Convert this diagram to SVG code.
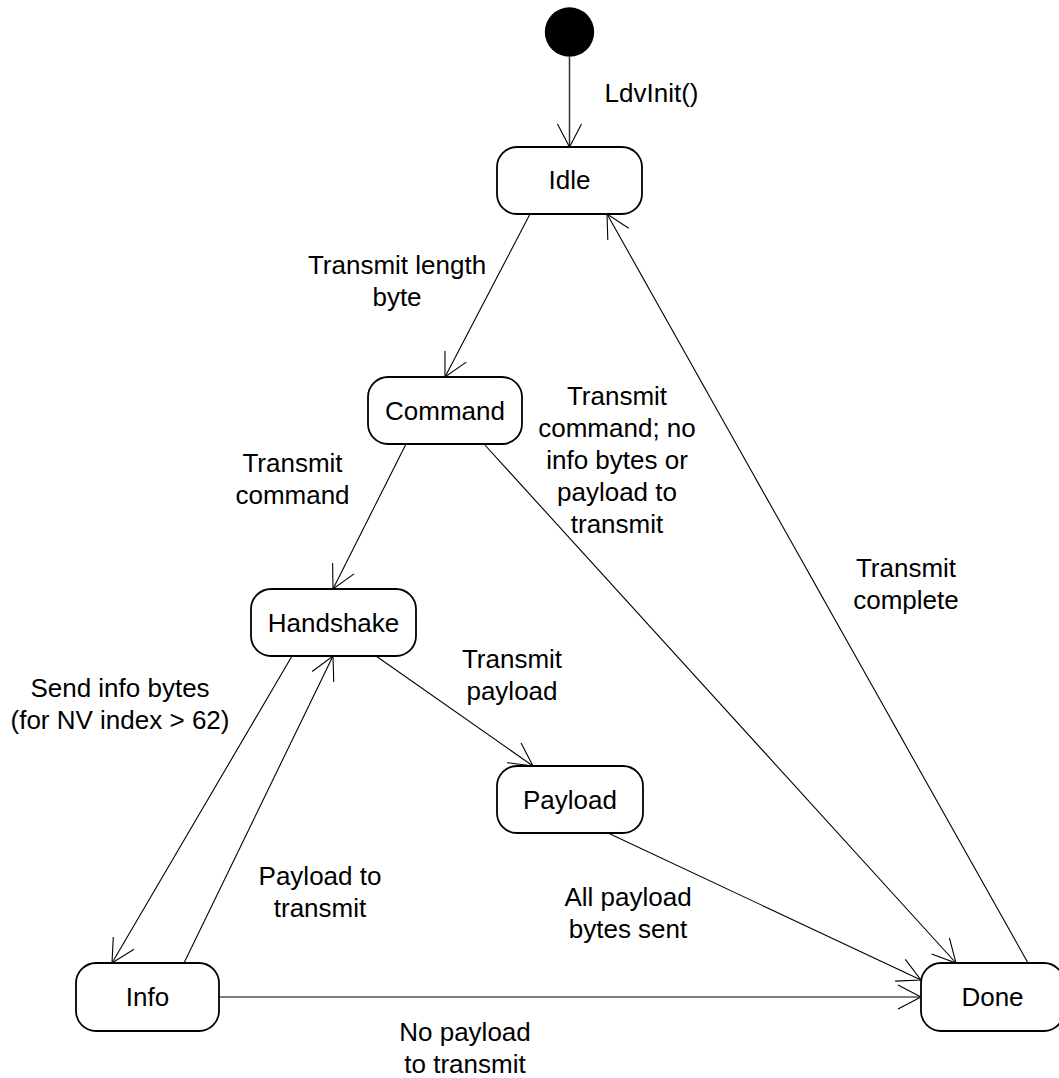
<svg xmlns="http://www.w3.org/2000/svg" width="1059" height="1078" viewBox="0 0 1059 1078">
<style>
.node rect{fill:#fff;stroke:#000;stroke-width:1.8}
.lbl{font-family:"Liberation Sans",Arial,sans-serif;font-size:26px;fill:#000;text-anchor:middle}
.edge{fill:none;stroke:#000;stroke-width:1.1}
</style>
<defs>
<marker id="arr" markerUnits="userSpaceOnUse" orient="auto" refX="0" refY="0" viewBox="-27 -14 30 28" markerWidth="30" markerHeight="28" overflow="visible">
<path d="M-23,-12 L0,0 L-23,12" fill="none" stroke="#000" stroke-width="1.1"/>
</marker>
</defs>
<rect x="0" y="0" width="1059" height="1078" fill="#fff"/>
<g id="connectors">
<line class="edge" x1="569.5" y1="57" x2="569.5" y2="147" style="stroke-width:1.5;stroke:#333" marker-end="url(#arr)"/>
<line class="edge" x1="530" y1="214" x2="445" y2="377" marker-end="url(#arr)"/>
<line class="edge" x1="1028" y1="963" x2="607" y2="214" marker-end="url(#arr)"/>
<line class="edge" x1="406" y1="444" x2="333" y2="589" marker-end="url(#arr)"/>
<line class="edge" x1="484" y1="444" x2="956" y2="963" marker-end="url(#arr)"/>
<line class="edge" x1="376" y1="656" x2="533" y2="766" marker-end="url(#arr)"/>
<line class="edge" x1="292" y1="656" x2="112" y2="963" marker-end="url(#arr)"/>
<line class="edge" x1="184" y1="963" x2="333" y2="656" marker-end="url(#arr)"/>
<line class="edge" x1="608" y1="833" x2="921" y2="980" marker-end="url(#arr)"/>
<line class="edge" x1="219" y1="997" x2="921" y2="997" marker-end="url(#arr)"/>
<text class="lbl" x="651.5" y="102">LdvInit()</text>
<text class="lbl" x="397" y="274">Transmit length</text>
<text class="lbl" x="397" y="306">byte</text>
<text class="lbl" x="292.5" y="472">Transmit</text>
<text class="lbl" x="292.5" y="504">command</text>
<text class="lbl" x="617" y="405">Transmit</text>
<text class="lbl" x="617" y="437">command; no</text>
<text class="lbl" x="617" y="469">info bytes or</text>
<text class="lbl" x="617" y="501">payload to</text>
<text class="lbl" x="617" y="533">transmit</text>
<text class="lbl" x="906" y="577">Transmit</text>
<text class="lbl" x="906" y="609">complete</text>
<text class="lbl" x="512" y="668">Transmit</text>
<text class="lbl" x="512" y="700">payload</text>
<text class="lbl" x="120" y="697">Send info bytes</text>
<text class="lbl" x="120" y="729">(for NV index &gt; 62)</text>
<text class="lbl" x="320" y="885">Payload to</text>
<text class="lbl" x="320" y="917">transmit</text>
<text class="lbl" x="628" y="906">All payload</text>
<text class="lbl" x="628" y="938">bytes sent</text>
<text class="lbl" x="465" y="1041">No payload</text>
<text class="lbl" x="465" y="1073">to transmit</text>
</g>
<g id="start"><circle cx="569.5" cy="32" r="24.7" fill="#000"/></g>
<g id="idle" class="node"><rect x="497" y="147" width="145" height="67" rx="20"/><text class="lbl" x="569.5" y="189">Idle</text></g>
<g id="command" class="node"><rect x="368" y="377" width="154" height="67" rx="20"/><text class="lbl" x="445" y="419.5">Command</text></g>
<g id="handshake" class="node"><rect x="251" y="589" width="165" height="67" rx="20"/><text class="lbl" x="333.5" y="632">Handshake</text></g>
<g id="payload" class="node"><rect x="497" y="766" width="146" height="67" rx="20"/><text class="lbl" x="570" y="809">Payload</text></g>
<g id="info" class="node"><rect x="76" y="963" width="143" height="68" rx="20"/><text class="lbl" x="147.5" y="1006">Info</text></g>
<g id="done" class="node"><rect x="921" y="963" width="143" height="68" rx="20"/><text class="lbl" x="992.5" y="1006">Done</text></g>
</svg>
